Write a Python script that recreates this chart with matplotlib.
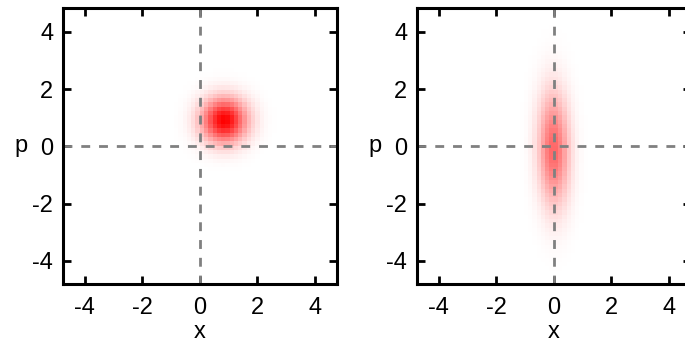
import numpy as np
import matplotlib.pyplot as plt
from matplotlib.colors import LinearSegmentedColormap

plt.rcParams['font.family'] = ['Liberation Sans', 'DejaVu Sans']
plt.rcParams['axes.unicode_minus'] = False

# Gaussian phase-space distributions
# (center x, center p, sigma x, sigma p, correlation, peak)
coherent = dict(x0=0.85, p0=0.9, sx=0.54, sp=0.54, rho=0.0, peak=1.0)
squeezed = dict(x0=0.0, p0=-0.1, sx=0.37, sp=1.35, rho=-0.05, peak=0.6)

xlim = (-4.75, 4.75)
ylim = (-4.8, 4.85)
ticks = [-4, -2, 0, 2, 4]
ncell = 64

xe = np.linspace(xlim[0], xlim[1], ncell + 1)
ye = np.linspace(ylim[0], ylim[1], ncell + 1)
X, P = np.meshgrid(0.5 * (xe[:-1] + xe[1:]), 0.5 * (ye[:-1] + ye[1:]))


def gauss(g):
    u = (X - g['x0']) / g['sx']
    v = (P - g['p0']) / g['sp']
    r = g['rho']
    q = (u**2 - 2 * r * u * v + v**2) / (1 - r**2)
    return g['peak'] * np.exp(-0.5 * q)


cmap = LinearSegmentedColormap.from_list('wr', ['#ffffff', '#ff0000'])

fig = plt.figure(figsize=(6.85, 3.44), dpi=100)
W, H = 685, 344
boxes = [(63, 7.6, 273.5, 276), (417, 7.6, 273.5, 276)]

for (l, t, w, h), g in zip(boxes, [coherent, squeezed]):
    ax = fig.add_axes([l / W, 1 - (t + h) / H, w / W, h / H])
    ax.pcolormesh(xe, ye, gauss(g), cmap=cmap, vmin=0, vmax=1,
                  shading='flat')
    ax.axhline(0, color='#808080', lw=2, dashes=(3.2, 3.2))
    ax.axvline(0, color='#808080', lw=2, dashes=(3.2, 3.2))
    ax.set_xlim(xlim)
    ax.set_ylim(ylim)
    ax.set_xticks(ticks)
    ax.set_yticks(ticks)
    ax.tick_params(direction='in', length=6, width=2, top=True, right=True,
                   labelsize=17)
    ax.tick_params(axis='x', pad=10)
    ax.tick_params(axis='y', pad=7)
    for s in ax.spines.values():
        s.set_linewidth(2.2)
    ax.set_xlabel('x', fontsize=17, labelpad=1)
    ax.set_ylabel('p', fontsize=17, rotation=0, labelpad=8, va='center')

fig.savefig('out.png', dpi=100)
